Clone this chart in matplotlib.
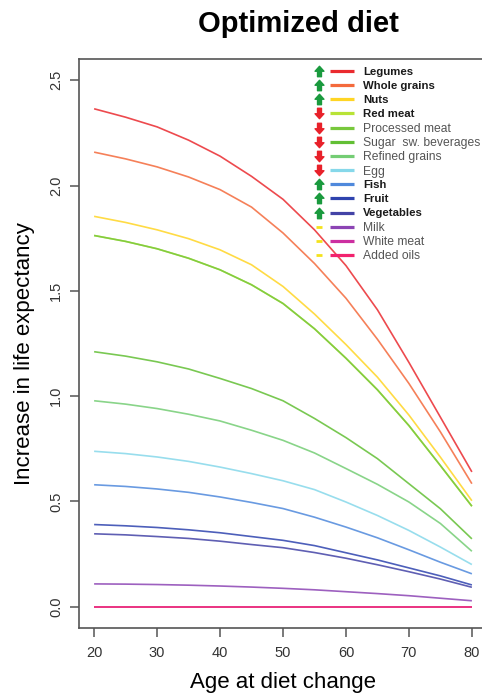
import numpy as np
import matplotlib
matplotlib.use("Agg")
import matplotlib.pyplot as plt
from matplotlib.path import Path

plt.rcParams['font.family'] = ['Liberation Sans', 'DejaVu Sans']

ages = [20, 25, 30, 35, 40, 45, 50, 55, 60, 65, 70, 75, 80]

foods = ["Legumes", "Whole grains", "Nuts", "Red meat", "Processed meat",
         "Sugar  sw. beverages", "Refined grains", "Egg", "Fish", "Fruit",
         "Vegetables", "Milk", "White meat", "Added oils"]
direction = ["up", "up", "up", "down", "down", "down", "down", "down",
             "up", "up", "up", "none", "none", "none"]
bold = [True, True, True, True, False, False, False, False,
        True, True, True, False, False, False]
colors = ["#ea2a2f", "#f46a3c", "#ffd524", "#b8e336", "#78c83c", "#62bf34",
          "#74cd74", "#86d8ea", "#4f89dc", "#2e43ae", "#4343a6", "#8c44b4",
          "#cc2fa0", "#f2226e"]

legumes = [2.365, 2.325, 2.279, 2.216, 2.140, 2.044, 1.935, 1.790, 1.620, 1.410, 1.160, 0.900, 0.640]
whole_grains = [2.159, 2.127, 2.089, 2.041, 1.981, 1.898, 1.775, 1.630, 1.465, 1.270, 1.060, 0.830, 0.584]
nuts = [1.854, 1.825, 1.790, 1.748, 1.695, 1.624, 1.521, 1.390, 1.245, 1.090, 0.910, 0.710, 0.503]
red_meat = [1.763, 1.735, 1.700, 1.655, 1.600, 1.529, 1.440, 1.320, 1.180, 1.030, 0.860, 0.670, 0.477]
processed_meat = [1.763, 1.735, 1.700, 1.655, 1.600, 1.529, 1.440, 1.320, 1.180, 1.030, 0.860, 0.670, 0.477]
sugar_bev = [1.211, 1.190, 1.163, 1.129, 1.084, 1.036, 0.978, 0.894, 0.803, 0.703, 0.584, 0.465, 0.322]
refined_grains = [0.978, 0.962, 0.941, 0.914, 0.882, 0.838, 0.790, 0.730, 0.656, 0.581, 0.497, 0.395, 0.263]
egg = [0.738, 0.727, 0.711, 0.690, 0.663, 0.632, 0.598, 0.556, 0.497, 0.433, 0.362, 0.283, 0.200]
fish = [0.579, 0.571, 0.559, 0.543, 0.521, 0.495, 0.466, 0.425, 0.378, 0.327, 0.270, 0.211, 0.156]
fruit = [0.390, 0.384, 0.376, 0.365, 0.351, 0.333, 0.315, 0.290, 0.256, 0.222, 0.184, 0.146, 0.103]
vegetables = [0.346, 0.341, 0.333, 0.324, 0.311, 0.295, 0.280, 0.257, 0.230, 0.199, 0.166, 0.131, 0.092]
milk = [0.108, 0.107, 0.105, 0.102, 0.098, 0.093, 0.087, 0.080, 0.071, 0.062, 0.052, 0.040, 0.028]
white_meat = [0.0] * 13
added_oils = [0.0] * 13

series = [legumes, whole_grains, nuts, red_meat, processed_meat, sugar_bev,
          refined_grains, egg, fish, fruit, vegetables, milk, white_meat, added_oils]

x_ticks = [20, 30, 40, 50, 60, 70, 80]
y_ticks = [0.0, 0.5, 1.0, 1.5, 2.0, 2.5]

W, H = 482, 699
fig = plt.figure(figsize=(W / 100, H / 100), dpi=100)
ax_l, ax_r, ax_t, ax_b = 79, 487, 59.3, 627.7
ax = fig.add_axes([ax_l / W, 1 - ax_b / H, (ax_r - ax_l) / W, (ax_b - ax_t) / H])

for vals, c in zip(series, colors):
    ax.plot(ages, vals, color=c, lw=1.2, alpha=0.85, solid_capstyle='butt',
            solid_joinstyle='round')

ax.set_xlim(17.6, 82.4)
ax.set_ylim(-0.1, 2.6)
ax.set_xticks(x_ticks)
ax.set_xticklabels([str(t) for t in x_ticks])
ax.set_yticks(y_ticks)
ax.set_yticklabels([f"{t:.1f}" for t in y_ticks], rotation=90, va='center')
for s in ax.spines.values():
    s.set_color('#555555')
    s.set_linewidth(1.2)
ax.tick_params(axis='both', direction='out', length=6.5, width=1.1,
               color='#555555', labelcolor='#333333', labelsize=10.5)
ax.tick_params(axis='x', pad=7)
ax.tick_params(axis='y', pad=5)

ax.set_xlabel("Age at diet change", fontsize=16, labelpad=8)
ax.set_ylabel("Increase in life expectancy", fontsize=16, labelpad=10)
ax.yaxis.label.set_y(0.482)

fig.text(298.5 / W, 1 - 24 / H, "Optimized diet", fontsize=21, fontweight='bold',
         ha='center', va='center')

# legend
up_path = Path([(-0.38, -1), (0.38, -1), (0.38, 0.05), (0.85, 0.05), (0, 1),
                (-0.85, 0.05), (-0.38, 0.05), (-0.38, -1)], closed=True)
down_path = Path([(x, -y) for x, y in up_path.vertices], closed=True)
row0, drow = 71.0, 14.15
for i, (name, d, b, c) in enumerate(zip(foods, direction, bold, colors)):
    py = row0 + i * drow
    fy = 1 - py / H
    fig.lines.append(plt.Line2D([330 / W, 354 / W], [fy, fy], color=c, lw=2.3,
                                transform=fig.transFigure, solid_capstyle='butt'))
    if d == "up":
        fig.lines.append(plt.Line2D([319 / W], [fy], marker=up_path, markersize=7.5,
                                    color='#1a9a3e', mec='#1a9a3e', transform=fig.transFigure))
    elif d == "down":
        fig.lines.append(plt.Line2D([319 / W], [fy], marker=down_path, markersize=7.5,
                                    color='#e8212a', mec='#e8212a', transform=fig.transFigure))
    else:
        fig.lines.append(plt.Line2D([319 / W], [fy], marker='_', markersize=4.5, mew=2,
                                    color='#f4e21c', transform=fig.transFigure))
    fig.text(363 / W, fy, name, fontsize=8.2 if b else 8.7, ha='left',
             va='center_baseline',
             fontweight='bold' if b else 'normal',
             color='#1a1a1a' if b else '#555555')

fig.savefig("out.png", dpi=100)
